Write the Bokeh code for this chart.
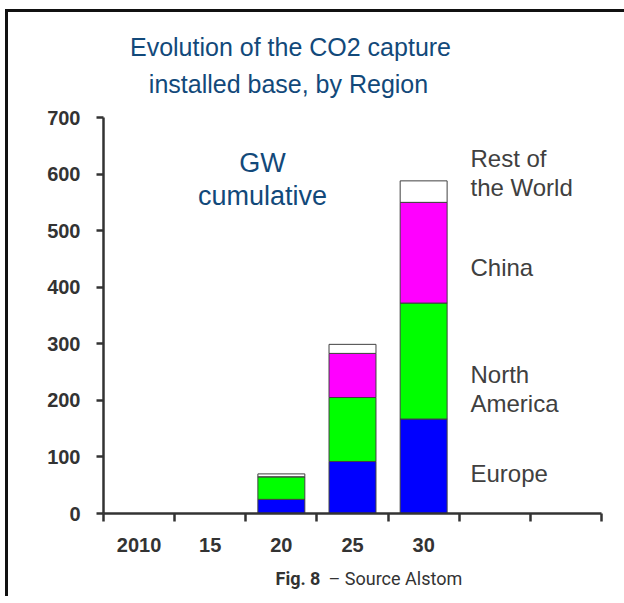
from bokeh.plotting import figure
from bokeh.models import Range1d, FixedTicker, Label, ColumnDataSource
from bokeh.layouts import column
from bokeh.embed import file_html
from bokeh.resources import INLINE

# ---- data ----
years = ["2010", "15", "20", "25", "30"]
regions = ["Europe", "North America", "China", "Rest of the World"]
europe = [0, 0, 25, 92, 167]
north_america = [0, 0, 40, 113, 205]
china = [0, 0, 0, 78, 178]
rest_of_world = [0, 0, 5, 16, 38]
n_slots = 7
y_ticks = [0, 100, 200, 300, 400, 500, 600, 700]

colors = ["#0000ff", "#00ff00", "#ff00ff", "#ffffff"]
centers = [i + 0.5 for i in range(len(years))]

source = ColumnDataSource(dict(
    x=centers, europe=europe, north_america=north_america,
    china=china, rest=rest_of_world))

W = 608
OX, OY = 8, 12          # page position of the content (inside the border)
TITLE_H = 93
MAIN_H = 461
CAP_H = 30
MAIN_TOP = OY + TITLE_H
CAP_TOP = MAIN_TOP + MAIN_H

title_col = "#12497a"
lab_col = "#404040"
axis_col = "#333333"
tick_font = "Liberation Sans"

fx0, fx1, fy0, fy1 = 103, 601, 513, 117
def dx(px):
    return (px - fx0) / (fx1 - fx0) * n_slots
def dy(py):
    return (fy0 - py) / (fy0 - fy1) * 700

BASE_SHIFT = 0.35  # baseline correction (fraction of font size)


def text_fig(h):
    f = figure(width=W, height=h, output_backend="svg", toolbar_location=None,
               x_range=Range1d(0, n_slots), y_range=Range1d(h, 0),
               x_axis_location=None, y_axis_location=None,
               min_border=0, min_border_left=0, min_border_right=0,
               min_border_top=0, min_border_bottom=0)
    f.title = None
    f.outline_line_color = None
    f.grid.visible = False
    f.background_fill_color = "white"
    f.border_fill_color = "white"
    return f


def put(f, text, x, y, size, color, align="left", font="Liberation Sans", style="normal"):
    f.add_layout(Label(x=x, y=y, text=text, text_font=font,
                       text_font_size=f"{size}px", text_color=color, text_align=align,
                       text_baseline="alphabetic", text_font_style=style))

# ---- title figure ----
ft = text_fig(TITLE_H)
def put_t(text, px, py, size, color, align):
    put(ft, text, dx(px), py - BASE_SHIFT * size - OY, size, color, align)
put_t("Evolution of the CO2 capture", 290, 55, 25, title_col, "center")
put_t("installed base, by Region", 288, 92, 25, title_col, "center")

# ---- main figure ----
p = figure(width=W, height=MAIN_H, output_backend="svg", toolbar_location=None,
           x_range=Range1d(0, n_slots), y_range=Range1d(0, 700),
           min_border_left=103 - OX, min_border_right=W - (601 - OX),
           min_border_top=117 - MAIN_TOP, min_border_bottom=MAIN_H - (513 - MAIN_TOP))
p.outline_line_color = None
p.grid.visible = False
p.background_fill_color = "white"
p.border_fill_color = "white"

p.vbar_stack(["europe", "north_america", "china", "rest"], x="x", width=0.66,
             source=source, fill_color=colors, line_color="#404040",
             line_width=1)

xa = p.xaxis[0]
xa.ticker = FixedTicker(ticks=centers, minor_ticks=list(range(n_slots + 1)))
xa.major_label_overrides = {c: y for c, y in zip(centers, years)}
xa.major_tick_out = 0
xa.major_tick_in = 0
xa.minor_tick_out = 8
xa.minor_tick_in = 0
xa.minor_tick_line_color = axis_col
xa.minor_tick_line_width = 2.5
xa.axis_line_color = axis_col
xa.axis_line_width = 2.5
xa.major_label_text_font = tick_font
xa.major_label_text_font_style = "bold"
xa.major_label_text_font_size = "20px"
xa.major_label_text_color = "#333333"
xa.major_label_standoff = 16

ya = p.yaxis[0]
ya.ticker = FixedTicker(ticks=y_ticks)
ya.major_tick_out = 7
ya.major_tick_in = 0
ya.minor_tick_out = 0
ya.minor_tick_in = 0
ya.major_tick_line_color = axis_col
ya.major_tick_line_width = 2.5
ya.axis_line_color = axis_col
ya.axis_line_width = 2.5
ya.major_label_text_font = tick_font
ya.major_label_text_font_style = "bold"
ya.major_label_text_font_size = "20px"
ya.major_label_text_color = "#333333"
ya.major_label_standoff = 16


def put_m(text, px, py, size, color, align="left"):
    put(p, text, dx(px), dy(py - BASE_SHIFT * size), size, color, align)

put_m("GW", 262, 172, 27, title_col, "center")
put_m("cumulative", 262, 205, 27, title_col, "center")

put_m("Rest of", 470, 166, 24, lab_col)
put_m("the World", 470, 195, 24, lab_col)
put_m("China", 470, 275, 24, lab_col)
put_m("North", 470, 382, 24, lab_col)
put_m("America", 470, 411, 24, lab_col)
put_m("Europe", 470, 481, 24, lab_col)

# ---- caption figure ----
fc = text_fig(CAP_H)
cap_y = 584 - BASE_SHIFT * 18 - CAP_TOP
put(fc, "Fig. 8", dx(275), cap_y, 18, "#333333", "left", "Roboto", "bold")
put(fc, "\u2013 Source Alstom", dx(328), cap_y, 18, "#333333", "left", "Roboto")

layout = column(ft, p, fc, spacing=0)
layout.styles = {"margin-left": "5px", "margin-top": "9px",
                 "padding-right": "8px",
                 "border-left": "3px solid #111111",
                 "border-top": "3px solid #111111"}

open("out.html", "w").write(file_html(layout, INLINE))
